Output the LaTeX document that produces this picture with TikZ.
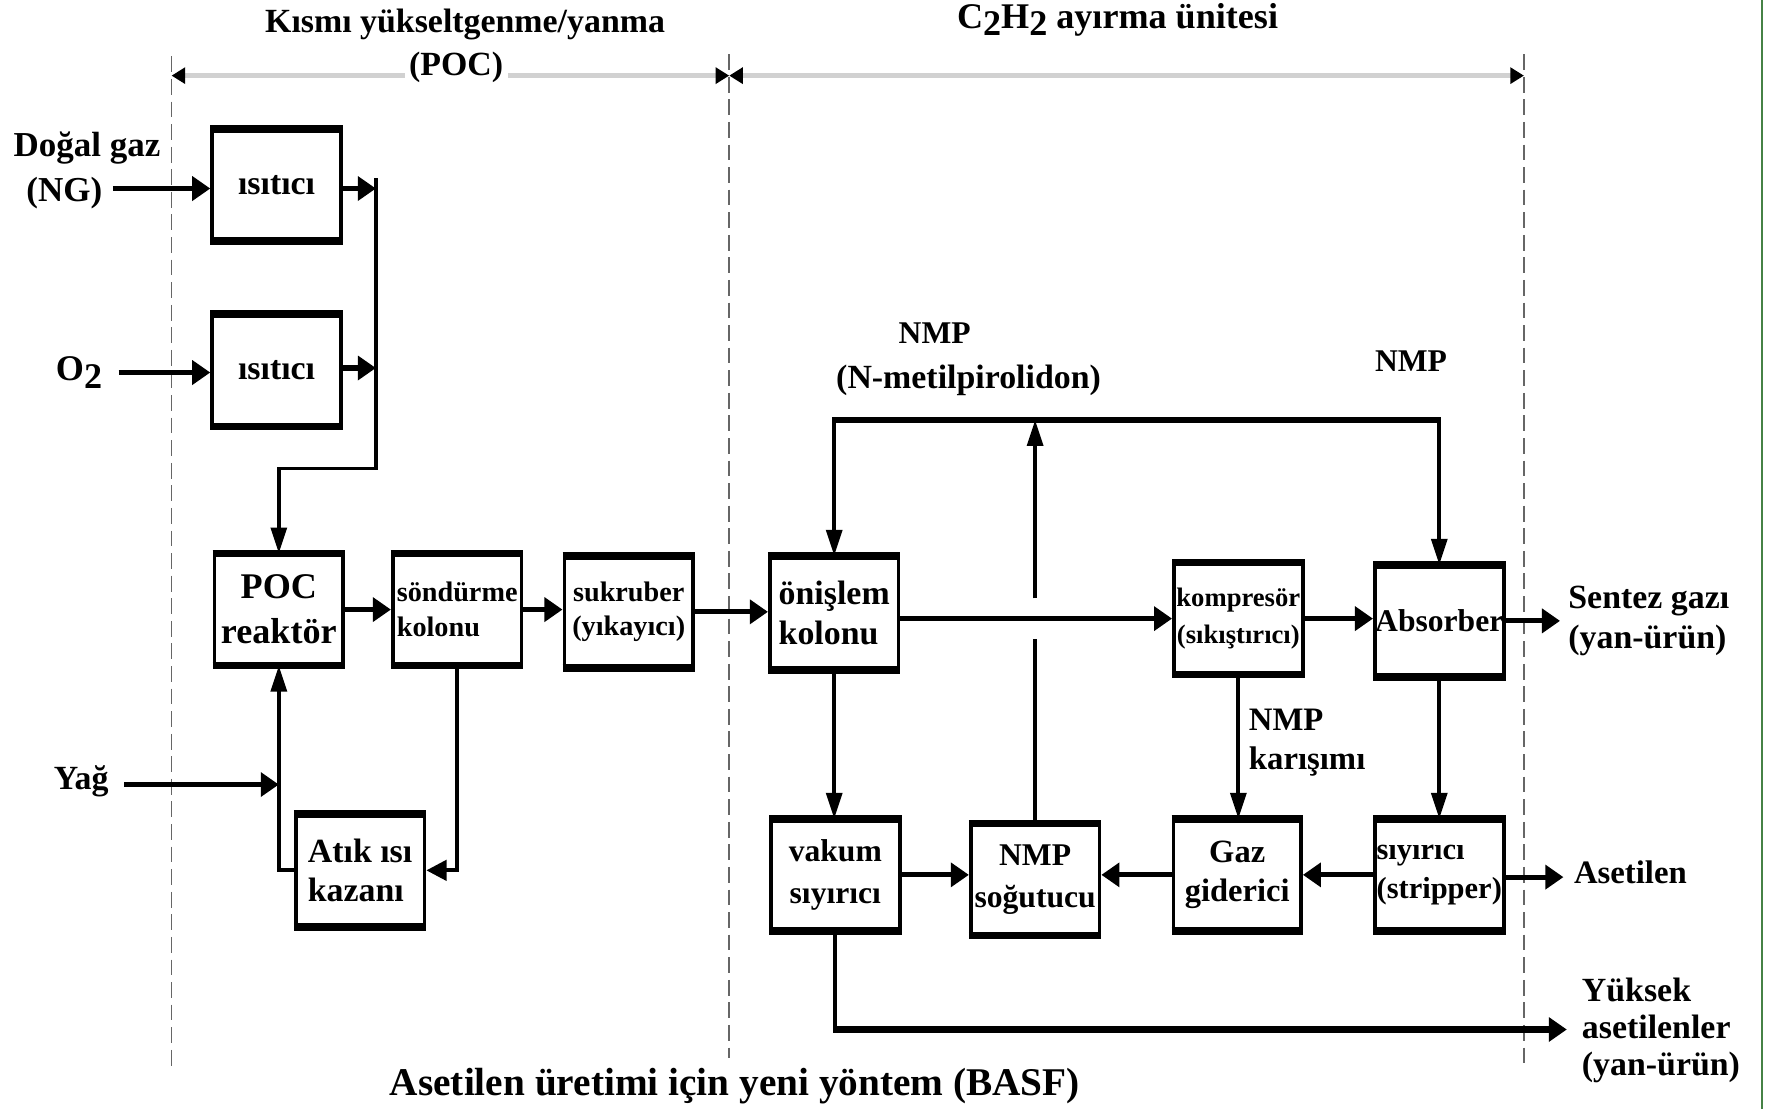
\documentclass[tikz,border=0pt]{standalone}
\usepackage{fontspec}
\setmainfont{Liberation Serif}
\usetikzlibrary{arrows.meta}
\definecolor{edgegreen}{RGB}{70,130,70}
\newcommand\myfs[2]{\fontsize{#1}{#2}\selectfont}
\begin{document}
\begin{tikzpicture}[x=0.5pt,y=-0.5pt,
  box/.style={draw, line width=1.7pt, rectangle, inner sep=0pt, minimum width=57pt, minimum height=48pt, align=center},
  lab/.style={inner sep=0pt, font=\bfseries},
  thk/.style={line width=2.3pt, -{Triangle[length=8pt,width=10.5pt]}},
  thn/.style={line width=1.7pt, -{Triangle[length=11.5pt,width=7pt]}},
  thw/.style={line width=1.7pt, -{Triangle[length=9pt,width=9pt]}},
  plain/.style={line width=1.7pt},
  hbar/.style={line width=2.7pt},
  dsh/.style={draw=black!60, line width=0.8pt, dash pattern=on 7pt off 3pt},
  dim/.style={draw=black!18, line width=2pt, {Triangle[length=6pt,width=7pt,color=black]}-{Triangle[length=6pt,width=7pt,color=black]}},
]
\useasboundingbox (0,0) rectangle (1568,982);
\fill[white] (0,0) rectangle (1568,982);
\draw[edgegreen, line width=0.8pt] (1561,0) -- (1561,982);

% region separators
\draw[dsh] (152,50) -- (152,948);
\draw[dsh] (646,48) -- (646,937);
\draw[dsh] (1350,48) -- (1350,948);
\coordinate (dA) at (152,67);
\coordinate (dB) at (646,67);
\coordinate (dC) at (1350,67);
\draw[dim] (dA) -- (dB);
\draw[dim] (dB) -- (dC);

% headers
\node[lab, font=\bfseries\myfs{15}{18}] (t1) at (412,22) {Kısmı yükseltgenme/yanma};
\node[lab, fill=white, inner xsep=2pt, font=\bfseries\myfs{15}{18}] (t2) at (404,60) {(POC)};
\node[lab, font=\bfseries\myfs{16}{18}] (t3) at (990,18) {C\raisebox{-0.4ex}{2}H\raisebox{-0.4ex}{2} ayırma ünitesi};

% input labels
\node[lab, font=\bfseries\myfs{15.5}{18}] (ng1) at (77,131) {Doğal gaz};
\node[lab, font=\bfseries\myfs{15.5}{18}] (ng2) at (57,171) {(NG)};
\node[lab, font=\bfseries\myfs{16}{18}] (o2) at (70,330) {O\raisebox{-0.45ex}{2}};
\node[lab, font=\bfseries\myfs{15}{18}] (yag) at (72,692) {Yağ};

% boxes
\node[box, font=\bfseries\myfs{15}{18}] (isi1) at (245,164) {ısıtıcı};
\node[box, font=\bfseries\myfs{15}{18}] (isi2) at (245,328) {ısıtıcı};
\node[box, font=\bfseries\myfs{16}{20}] (poc) at (247,540) {POC\\reaktör};
\node[box, font=\bfseries\myfs{12.5}{15.5}, align=left] (sond) at (405,540) {söndürme\\kolonu};
\node[box, font=\bfseries\myfs{12.5}{15}] (suk) at (557,542) {sukruber\\(yıkayıcı)};
\node[box, font=\bfseries\myfs{15}{17.5}, align=left, minimum height=48.5pt] (atik) at (319,771) {Atık ısı\\kazanı};
\node[box, font=\bfseries\myfs{15}{17.5}, align=left, minimum height=49pt] (onis) at (739,543) {önişlem\\kolonu};
\node[box, font=\bfseries\myfs{11.8}{16}] (komp) at (1097,548) {kompresör\\(sıkıştırıcı)};
\node[box, font=\bfseries\myfs{14}{17}] (abs) at (1275,550) {Absorber};
\node[box, font=\bfseries\myfs{14}{18.5}] (vak) at (740,775) {vakum\\sıyırıcı};
\node[box, font=\bfseries\myfs{14}{18.5}] (nmps) at (917,779) {NMP\\soğutucu};
\node[box, font=\bfseries\myfs{14.4}{17.5}, minimum width=56.5pt] (gaz) at (1096,775) {Gaz\\giderici};
\node[box, font=\bfseries\myfs{13.5}{17.5}, align=left] (siy) at (1275,775) {sıyırıcı\\(stripper)};

\foreach \b in {isi1,isi2,poc,sond,suk,atik,onis,komp,abs,vak,nmps,gaz,siy}{
  \draw[line width=3.3pt] (\b.north west) -- (\b.north east) (\b.south west) -- (\b.south east);
}

% output / side labels
\node[lab, font=\bfseries\myfs{15}{18}, align=left, anchor=west] (sg) at (1389,550) {Sentez gazı\\(yan-ürün)};
\node[lab, font=\bfseries\myfs{14.5}{18}, anchor=west] (ase) at (1394,773) {Asetilen};
\node[lab, font=\bfseries\myfs{15}{16.5}, align=left, anchor=west] (yuk) at (1401,913) {Yüksek\\asetilenler\\(yan-ürün)};
\node[lab, font=\bfseries\myfs{14}{18}] (nmpa) at (828,295) {NMP};
\node[lab, font=\bfseries\myfs{15}{18}] (nmpb) at (858,337) {(N-metilpirolidon)};
\node[lab, font=\bfseries\myfs{14}{18}] (nmpc) at (1250,320) {NMP};
\node[lab, font=\bfseries\myfs{14.5}{17.5}, align=left, anchor=west] (nmpk) at (1106,658) {NMP\\karışımı};
\node[lab, font=\bfseries\myfs{17.4}{20}] (cap) at (651,962) {Asetilen üretimi için yeni yöntem (BASF)};

% ---- connectors: POC part
\coordinate (ngs) at (100,167);
\draw[thk] (ngs) -- (ngs -| isi1.west);
\coordinate (bus0) at (333,158);
\coordinate (bus1) at (333,167);
\coordinate (bus2) at (333,415);
\draw[thk] (isi1.east |- bus1) -- (bus1);
\draw[thn] (bus0) -- (bus2) -| (poc.north);
\coordinate (o2s) at (105,330);
\draw[thk] (o2s) -- (o2s -| isi2.west);
\coordinate (o2b) at (333,326);
\draw[thk] (isi2.east |- o2b) -- (o2b);

\draw[thk] (poc.east) -- (sond.west);
\draw[thk] (sond.east) -- (sond.east -| suk.west);
\draw[thk] (suk.east) -- (suk.east -| onis.west);

\coordinate (yags) at (110,695);
\draw[thk] (yags) -- (yags -| poc.south);
\draw[thn] (atik.west) -| (poc.south);
\draw[thw] (sond.south) |- (atik.east);

% ---- connectors: C2H2 part
\draw[thk] (komp.west -| onis.east) -- (komp.west);
\draw[thk] (komp.east) -- (komp.east -| abs.west);
\coordinate (sgs) at (1382,550);
\draw[thk] (abs.east) -- (sgs);

\coordinate (loopy) at (917,372);
\draw[line width=1.7pt, {Triangle[length=11.5pt,width=7pt]}-{Triangle[length=11.5pt,width=7pt]}] (onis.north) |- (loopy) -| (abs.north);
\coordinate (loopL) at (onis.north |- loopy);
\coordinate (loopR) at (abs.north |- loopy);
\draw[hbar] ([xshift=-0.85pt]loopL) -- ([xshift=0.85pt]loopR);

\coordinate (gapl) at (917,566);
\coordinate (gaph) at (917,530);
\draw[plain] (nmps.north) -- (gapl);
\draw[thn] (gaph) -- (loopy);

\draw[thn] (onis.south) -- (onis.south |- vak.north);
\draw[thk] (vak.east) -- (vak.east -| nmps.west);
\draw[thk] (gaz.west) -- (gaz.west -| nmps.east);
\draw[thn] (komp.south) -- (komp.south |- gaz.north);
\draw[thn] (abs.south) -- (abs.south |- siy.north);
\draw[thk] (siy.west) -- (siy.west -| gaz.east);
\coordinate (ases) at (1385,777);
\draw[thk] (siy.east |- ases) -- (ases);

\coordinate (yuks) at (1388,912);
\coordinate (ycorner) at (vak.south |- yuks);
\draw[plain] (vak.south) -- (ycorner);
\draw[hbar, -{Triangle[length=8pt,width=10.5pt]}] ([xshift=-0.85pt]ycorner) -- (yuks);
\end{tikzpicture}
\end{document}
